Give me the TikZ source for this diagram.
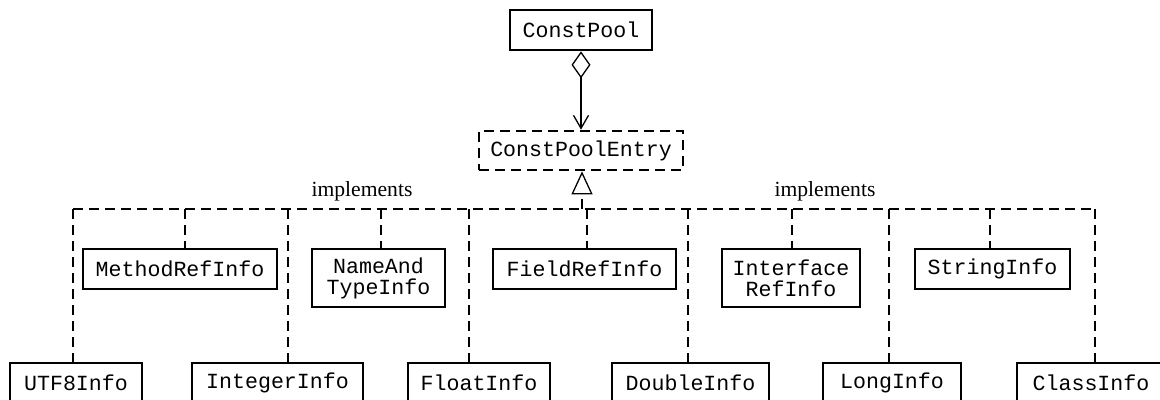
\documentclass[tikz,border=0pt]{standalone}
\usepackage{fontspec}
\setmainfont{Liberation Serif}
\setmonofont{Liberation Mono}
\usetikzlibrary{arrows.meta}
\tikzset{
  cls/.style={draw, line width=1.35pt, inner sep=0pt, align=center,
    font=\ttfamily\fontsize{10.8pt}{10.5pt}\selectfont},
  iface/.style={cls, dash pattern=on 5pt off 3pt},
  realize/.style={line width=0.65pt, dash pattern=on 5pt off 3pt},
  lbl/.style={inner sep=0pt, font=\fontsize{10.8pt}{12pt}\selectfont},
}
\begin{document}
\begin{tikzpicture}[x=0.5pt, y=-0.5pt]
\useasboundingbox (0,0) rectangle (1160,400);

% top: aggregate and interface
\node[cls, minimum width=71pt, minimum height=20pt] (pool) at (581,30) {ConstPool};
\node[iface, minimum width=102pt, minimum height=19.5pt] (entry) at (581,150.5) {ConstPoolEntry};

% middle row
\node[cls, minimum width=97pt, minimum height=20pt] (method) at (180,269) {MethodRefInfo};
\node[cls, minimum width=66.5pt, minimum height=29pt] (nat) at (378.5,278) {NameAnd\\TypeInfo};
\node[cls, minimum width=91.5pt, minimum height=20pt] (field) at (584.5,269) {FieldRefInfo};
\node[cls, minimum width=69pt, minimum height=29pt] (iref) at (791,278) {Interface\\RefInfo};
\node[cls, minimum width=77.5pt, minimum height=20pt] (string) at (992.5,269) {StringInfo};

% bottom row
\node[cls, minimum width=66pt, minimum height=20pt] (utf) at (76,383) {UTF8Info};
\node[cls, minimum width=85.5pt, minimum height=20pt] (int) at (277.5,383) {IntegerInfo};
\node[cls, minimum width=71pt, minimum height=20pt] (float) at (479,383) {FloatInfo};
\node[cls, minimum width=78.5pt, minimum height=20pt] (double) at (690.5,383) {DoubleInfo};
\node[cls, minimum width=69pt, minimum height=20pt] (long) at (892,383) {LongInfo};
\node[cls, minimum width=74pt, minimum height=20pt] (class) at (1091,383) {ClassInfo};

% aggregation
\draw[line width=0.65pt,
  {Diamond[open,length=13.5pt,width=9.5pt]}-{Straight Barb[length=6.5pt,width=7.5pt]}]
  (pool.south) -- (entry.north);

% realization bus
\coordinate (busL) at (73,209);
\coordinate (busR) at (1095,209);
\coordinate (stem) at (582,209);
\draw[realize] (busL) -- (busR);
\draw[realize, -{Triangle[open,length=11.5pt,width=10.5pt,line width=0.65pt]}]
  (stem) -- (stem |- entry.south);

% drops from the bus to each implementing class
\foreach \x/\n in {185/method, 381/nat, 587/field, 792/iref, 990/string,
                   73/utf, 288/int, 469/float, 688/double, 889/long, 1095/class}{
  \coordinate (d-\n) at (\x,209);
  \draw[realize] (d-\n) -- (d-\n |- \n.north);
}

\node[lbl] (impl1) at (362,191) {implements};
\node[lbl] (impl2) at (825,191) {implements};
\end{tikzpicture}
\end{document}
